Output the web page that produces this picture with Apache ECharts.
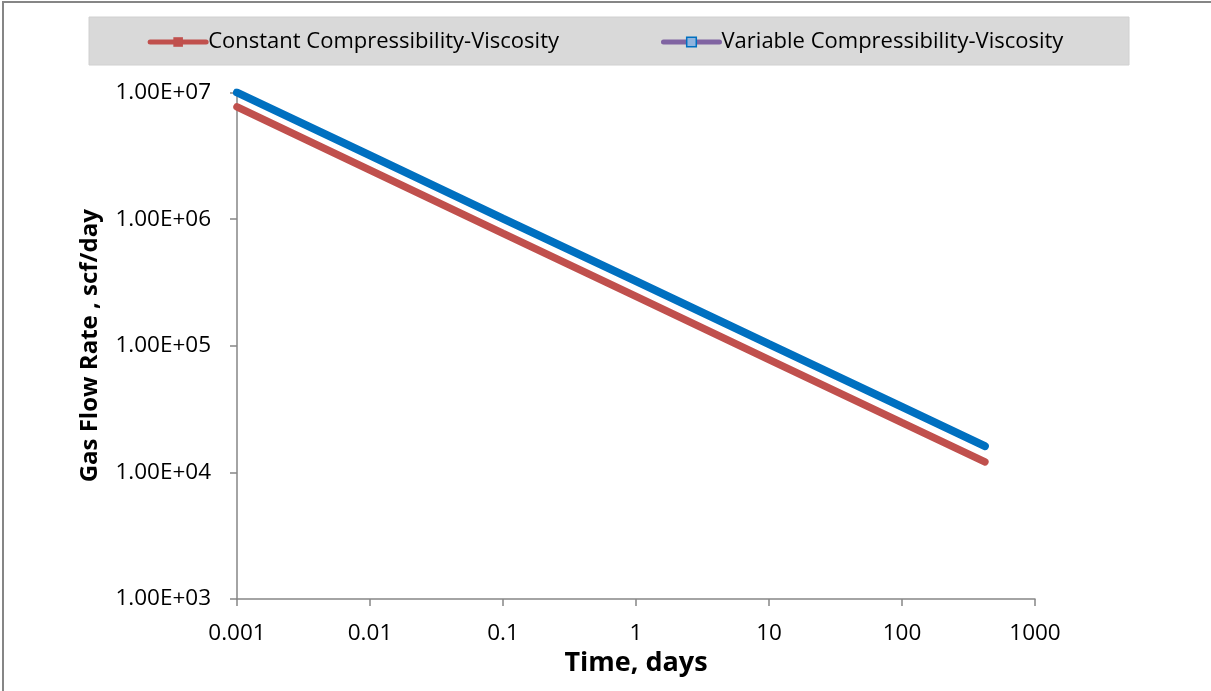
<!DOCTYPE html>
<html>
<head>
<meta charset="utf-8">
<script src="https://cdn.jsdelivr.net/npm/echarts@6/dist/echarts.min.js"></script>
<style>
html,body{margin:0;padding:0;background:#fff;}
#chart{width:1211px;height:691px;}
</style>
</head>
<body>
<div id="chart"></div>
<script>
// Data
var seriesNames = ['Constant Compressibility-Viscosity', 'Variable Compressibility-Viscosity'];
var timeDays = [0.001, 0.01, 0.1, 1, 10, 100, 420];
var constantRate = [7.7e6, 2.44e6, 7.73e5, 2.45e5, 7.78e4, 2.47e4, 1.21e4];
var variableRate = [1.0e7, 3.19e6, 1.01e6, 3.24e5, 1.03e5, 3.29e4, 1.61e4];
var xTickLabels = ['0.001', '0.01', '0.1', '1', '10', '100', '1000'];
var yTickLabels = ['1.00E+03', '1.00E+04', '1.00E+05', '1.00E+06', '1.00E+07'];

var FONT = 'Open Sans';
var chart = echarts.init(document.getElementById('chart'), null, {renderer: 'canvas'});

function pairs(xs, ys) {
  return xs.map(function (x, i) { return [x, ys[i]]; });
}

var option = {
  backgroundColor: '#ffffff',
  animation: false,
  textStyle: {fontFamily: FONT},
  graphic: [
    {type: 'rect', z: -10, silent: true,
     shape: {x: 3, y: 2, width: 1400, height: 1000},
     style: {fill: 'none', stroke: '#868686', lineWidth: 2}},
    {type: 'rect', z: -5, silent: true,
     shape: {x: 89, y: 17, width: 1040, height: 48},
     style: {fill: '#d9d9d9', stroke: '#d0d0d0', lineWidth: 1}}
  ],
  legend: {
    left: 'center',
    top: 31,
    padding: 0,
    itemGap: 102,
    itemWidth: 56,
    itemHeight: 12,
    textStyle: {fontFamily: FONT, fontSize: 22, color: '#000', padding: [0, 0, 0, -3]},
    data: [
      {name: seriesNames[0],
       lineStyle: {color: '#C0504D', width: 5},
       itemStyle: {color: '#C0504D'}},
      {name: seriesNames[1],
       lineStyle: {color: '#8064A2', width: 5},
       itemStyle: {color: '#8FB4DE', borderColor: '#0070C0', borderWidth: 1.5}}
    ]
  },
  grid: {left: 237, right: 176, top: 92.5, bottom: 92, containLabel: false},
  xAxis: {
    type: 'log',
    logBase: 10,
    min: 0.001,
    max: 1000,
    name: 'Time, days',
    nameLocation: 'middle',
    nameGap: 51,
    nameTextStyle: {fontFamily: FONT, fontSize: 27, fontWeight: 'bold', color: '#000'},
    axisLine: {show: true, lineStyle: {color: '#868686', width: 1.5}},
    axisTick: {show: true, inside: false, length: 7, lineStyle: {color: '#868686', width: 1.5}},
    minorTick: {show: false},
    splitLine: {show: false},
    axisLabel: {
      margin: 23,
      fontFamily: FONT, fontSize: 22.5, color: '#000',
      formatter: function (v) {
        var k = Math.round(Math.log10(v)) + 3;
        return xTickLabels[k] !== undefined ? xTickLabels[k] : '';
      }
    }
  },
  yAxis: {
    type: 'log',
    logBase: 10,
    min: 1000,
    max: 1e7,
    name: 'Gas Flow Rate , scf/day',
    nameLocation: 'middle',
    nameRotate: 90,
    nameGap: 135,
    nameTextStyle: {fontFamily: FONT, fontSize: 24, fontWeight: 'bold', color: '#000'},
    axisLine: {show: true, lineStyle: {color: '#868686', width: 1.5}},
    axisTick: {show: true, inside: false, length: 7, lineStyle: {color: '#868686', width: 1.5}},
    splitLine: {show: false},
    axisLabel: {
      margin: 26,
      fontFamily: FONT, fontSize: 22.5, color: '#000',
      formatter: function (v) {
        var k = Math.round(Math.log10(v)) - 3;
        return yTickLabels[k] !== undefined ? yTickLabels[k] : '';
      }
    }
  },
  series: [
    {
      name: seriesNames[0],
      type: 'line',
      data: pairs(timeDays, constantRate),
      symbol: 'rect',
      symbolSize: [3, 9],
      showSymbol: false,
      lineStyle: {color: '#C0504D', width: 7.5, cap: 'round'},
      itemStyle: {color: '#C0504D'},
      z: 2
    },
    {
      name: seriesNames[1],
      type: 'line',
      data: pairs(timeDays, variableRate),
      symbol: 'rect',
      symbolSize: 7,
      showSymbol: false,
      lineStyle: {color: '#0070C0', width: 8, cap: 'round'},
      itemStyle: {color: '#8FB4DE', borderColor: '#0070C0'},
      z: 3
    }
  ]
};
chart.setOption(option);
</script>
</body>
</html>
